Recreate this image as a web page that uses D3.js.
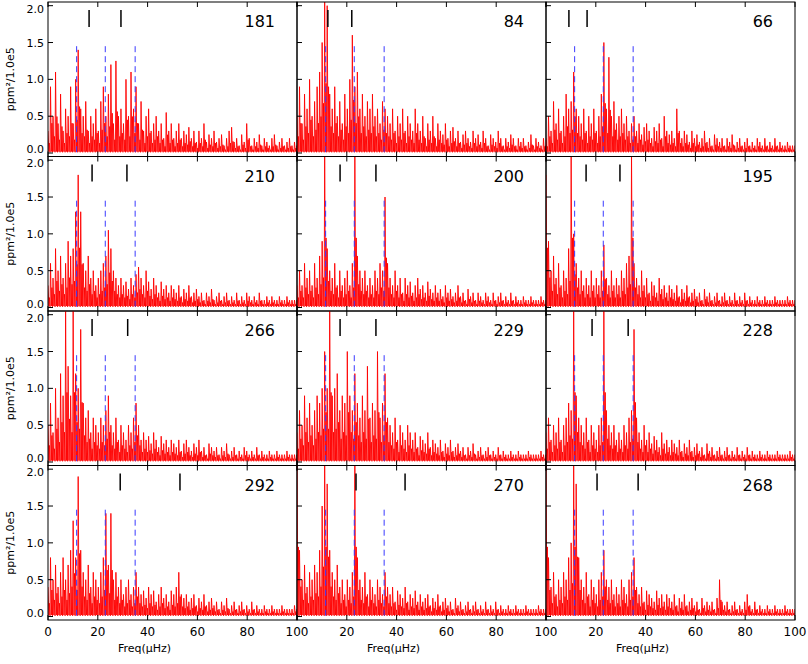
<!DOCTYPE html><html><head><meta charset="utf-8"><script src="https://cdn.jsdelivr.net/npm/d3@7"></script>
<style>body{margin:0;background:#fff}text{font-family:"DejaVu Sans",sans-serif}</style></head><body>
<svg id="c" width="808" height="664"></svg>
<script>
const labels=["181","84","66","210","200","195","266","229","228","292","270","268"];
const blueLines=[11.5,23,35];
const blackMarks=[[16.5,29.3],[12.4,22],[9.2,16.5],[17.7,31.7],[17.3,31.7],[16.1,29.7],[17.7,32],[17.3,31.7],[18.5,33],[29,53],[23.7,43.4],[20.5,37]];
const xTicks=[0,20,40,60,80,100];
const yTicks=[0,0.5,1,1.5,2];
const spectra=[
[0.3,0.9,0.5,1.1,0.4,0.8,0.3,0.6,0.5,0.9,0.4,1.0,1.4,0.6,0.5,0.7,0.3,0.5,0.4,0.6,0.3,0.7,0.9,0.5,0.8,1.2,0.4,1.25,0.5,0.6,0.4,1.0,0.5,1.1,0.6,0.9,0.4,0.7,0.3,0.5,0.6,0.3,0.4,0.5,0.3,0.4,0.2,0.55,0.3,0.4,0.2,0.3,0.4,0.2,0.3,0.25,0.35,0.2,0.3,0.15,0.3,0.2,0.4,0.15,0.25,0.2,0.3,0.15,0.2,0.25,0.1,0.2,0.3,0.35,0.15,0.2,0.1,0.25,0.15,0.4,0.2,0.1,0.2,0.15,0.25,0.1,0.2,0.15,0.1,0.2,0.25,0.1,0.15,0.2,0.1,0.15,0.2,0.1,0.15,0.1],
[0.5,0.9,0.4,0.8,0.6,1.0,0.5,0.7,0.9,1.1,1.5,2.1,2.0,0.8,0.6,0.9,0.5,0.7,0.4,0.8,0.6,1.0,1.6,0.9,1.1,0.6,0.8,0.5,0.7,0.6,0.8,0.5,0.6,0.4,0.7,0.6,0.5,0.4,0.6,0.3,0.5,0.4,0.6,0.3,0.5,0.4,0.3,0.6,0.4,0.3,0.5,0.2,0.4,0.3,0.5,0.2,0.4,0.3,0.25,0.4,0.2,0.3,0.35,0.2,0.3,0.15,0.25,0.3,0.2,0.15,0.3,0.2,0.25,0.15,0.3,0.2,0.1,0.25,0.2,0.15,0.3,0.2,0.1,0.2,0.15,0.25,0.2,0.1,0.2,0.15,0.2,0.1,0.15,0.25,0.1,0.2,0.15,0.1,0.2,0.1],
[0.2,0.5,0.3,0.7,0.4,0.6,0.3,0.5,0.8,0.6,0.7,1.1,0.6,0.5,0.4,0.6,0.3,0.5,0.4,0.6,0.3,0.5,0.8,1.5,0.6,1.3,0.5,0.7,0.4,0.5,0.6,0.4,0.5,0.3,0.4,0.5,0.3,0.4,0.25,0.35,0.4,0.3,0.2,0.35,0.3,0.4,0.2,0.5,0.3,0.25,0.3,0.2,0.6,0.3,0.2,0.3,0.25,0.15,0.3,0.2,0.25,0.15,0.2,0.3,0.15,0.2,0.1,0.25,0.2,0.15,0.2,0.1,0.2,0.15,0.25,0.1,0.15,0.2,0.1,0.15,0.2,0.1,0.15,0.1,0.2,0.15,0.1,0.2,0.1,0.15,0.1,0.2,0.1,0.15,0.1,0.1,0.15,0.1,0.1,0.1],
[0.3,0.6,0.4,0.8,0.5,0.7,0.4,0.6,0.9,0.7,0.8,1.3,1.8,1.3,0.6,0.5,0.7,0.4,0.5,0.3,0.4,0.5,0.6,0.7,1.05,0.8,0.5,0.4,0.3,0.4,0.3,0.35,0.25,0.4,0.3,0.45,0.55,0.4,0.3,0.5,0.35,0.25,0.4,0.3,0.2,0.35,0.25,0.3,0.2,0.3,0.25,0.2,0.3,0.15,0.25,0.2,0.3,0.15,0.2,0.25,0.15,0.2,0.1,0.2,0.15,0.25,0.1,0.15,0.2,0.1,0.15,0.2,0.1,0.15,0.1,0.2,0.1,0.15,0.1,0.2,0.15,0.1,0.15,0.1,0.2,0.1,0.1,0.15,0.1,0.15,0.1,0.1,0.15,0.1,0.1,0.15,0.1,0.1,0.1,0.1],
[0.3,0.5,0.3,0.6,0.4,0.5,0.3,0.6,0.4,0.7,0.9,2.1,0.8,0.5,0.4,0.6,0.3,0.5,0.3,0.4,0.5,0.3,0.6,2.1,0.7,0.5,0.4,0.5,0.3,0.4,0.3,0.5,0.4,0.6,0.5,1.5,0.6,0.4,0.3,0.5,0.3,0.4,0.2,0.4,0.3,0.35,0.2,0.3,0.4,0.25,0.3,0.2,0.35,0.25,0.2,0.3,0.2,0.25,0.15,0.3,0.2,0.25,0.15,0.2,0.3,0.15,0.2,0.1,0.25,0.15,0.2,0.1,0.2,0.15,0.1,0.2,0.15,0.1,0.2,0.1,0.15,0.2,0.1,0.15,0.1,0.2,0.1,0.15,0.1,0.1,0.15,0.1,0.1,0.15,0.1,0.1,0.1,0.15,0.1,0.1],
[1.8,0.9,0.5,0.7,0.4,0.6,0.3,0.5,0.4,0.8,2.1,1.0,0.6,0.4,0.5,0.3,0.4,0.3,0.5,0.3,0.4,0.3,0.5,0.85,0.4,0.3,0.5,0.3,0.4,0.3,0.5,0.4,0.6,0.7,2.1,0.6,0.4,0.3,0.5,0.3,0.4,0.2,0.35,0.3,0.2,0.4,0.25,0.3,0.2,0.3,0.25,0.2,0.3,0.15,0.25,0.2,0.3,0.15,0.2,0.25,0.15,0.2,0.1,0.25,0.15,0.2,0.1,0.15,0.2,0.1,0.15,0.2,0.1,0.15,0.1,0.2,0.1,0.15,0.1,0.2,0.1,0.15,0.1,0.1,0.15,0.1,0.1,0.15,0.1,0.1,0.1,0.15,0.1,0.1,0.1,0.1,0.15,0.1,0.1,0.1],
[0.5,0.8,0.4,1.0,0.6,1.2,0.9,2.1,1.3,0.9,2.1,1.2,1.0,1.8,0.8,0.6,0.7,0.4,0.6,0.5,0.4,0.6,0.5,0.7,0.9,0.5,0.4,0.6,0.3,0.5,0.4,0.3,0.5,0.4,0.6,0.8,0.5,0.3,0.4,0.3,0.35,0.25,0.4,0.3,0.2,0.35,0.25,0.3,0.2,0.3,0.25,0.2,0.3,0.15,0.25,0.3,0.2,0.15,0.25,0.2,0.3,0.15,0.2,0.1,0.25,0.2,0.15,0.2,0.1,0.2,0.15,0.25,0.1,0.15,0.2,0.1,0.15,0.1,0.2,0.15,0.1,0.15,0.1,0.2,0.1,0.15,0.1,0.1,0.15,0.1,0.1,0.15,0.1,0.1,0.1,0.15,0.1,0.1,0.1,0.1],
[0.4,0.7,0.5,0.9,0.6,0.8,0.5,0.7,0.9,0.8,1.0,1.5,1.0,2.1,0.9,1.0,1.2,0.7,0.9,0.8,1.5,0.9,0.7,1.2,0.8,0.6,0.9,0.7,1.3,0.6,0.8,0.7,1.5,0.6,0.8,1.2,0.6,0.5,0.4,0.6,0.3,0.5,0.4,0.3,0.5,0.4,0.3,0.4,0.2,0.35,0.3,0.25,0.4,0.2,0.3,0.25,0.2,0.3,0.15,0.25,0.2,0.3,0.15,0.2,0.25,0.15,0.2,0.1,0.2,0.15,0.25,0.1,0.15,0.2,0.1,0.15,0.2,0.1,0.15,0.1,0.2,0.1,0.15,0.1,0.1,0.15,0.1,0.1,0.15,0.1,0.1,0.1,0.15,0.1,0.1,0.1,0.1,0.15,0.1,0.1],
[0.4,0.6,0.3,0.5,0.4,0.6,0.3,0.5,0.6,0.8,0.7,2.1,0.9,0.6,0.5,0.4,0.6,0.3,0.5,0.4,0.3,0.5,0.6,2.1,0.7,0.5,0.4,0.5,0.3,0.4,0.3,0.5,0.4,0.6,0.7,1.8,0.6,0.4,0.3,0.5,0.3,0.4,0.25,0.35,0.3,0.2,0.4,0.25,0.3,0.2,0.3,0.25,0.2,0.3,0.15,0.25,0.2,0.3,0.15,0.2,0.25,0.15,0.2,0.1,0.25,0.15,0.2,0.1,0.15,0.2,0.1,0.15,0.2,0.1,0.15,0.1,0.2,0.1,0.15,0.1,0.2,0.1,0.15,0.1,0.1,0.15,0.1,0.1,0.15,0.1,0.1,0.1,0.15,0.1,0.1,0.1,0.1,0.15,0.1,0.1],
[0.4,0.8,0.5,0.7,0.4,0.6,0.8,0.5,0.7,0.9,1.3,0.8,1.9,0.9,0.6,0.5,0.7,0.4,0.6,0.5,0.4,0.6,0.8,1.4,0.7,1.4,0.5,0.6,0.4,0.5,0.3,0.4,0.5,0.3,0.4,0.6,0.4,0.3,0.35,0.25,0.4,0.3,0.35,0.2,0.3,0.4,0.25,0.3,0.2,0.35,0.3,0.4,0.6,0.3,0.25,0.3,0.2,0.25,0.3,0.15,0.25,0.2,0.3,0.15,0.2,0.25,0.15,0.2,0.1,0.2,0.15,0.25,0.1,0.15,0.2,0.1,0.15,0.2,0.1,0.15,0.1,0.2,0.1,0.15,0.1,0.1,0.15,0.1,0.1,0.15,0.1,0.1,0.1,0.15,0.1,0.1,0.1,0.1,0.15,0.1],
[2.1,0.9,0.5,0.7,0.4,0.6,0.5,0.7,0.6,0.9,1.5,2.1,1.8,0.9,0.6,0.5,0.7,0.4,0.5,0.3,0.5,0.4,0.6,2.1,0.8,0.5,0.4,0.6,0.3,0.5,0.4,0.3,0.5,0.4,0.3,0.6,0.4,0.3,0.4,0.2,0.35,0.3,0.25,0.4,0.2,0.3,0.25,0.35,0.2,0.3,0.2,0.25,0.3,0.15,0.25,0.2,0.3,0.15,0.2,0.25,0.15,0.2,0.1,0.25,0.15,0.2,0.1,0.15,0.2,0.1,0.15,0.2,0.1,0.15,0.1,0.2,0.1,0.15,0.1,0.2,0.1,0.15,0.1,0.1,0.15,0.1,0.1,0.15,0.1,0.1,0.1,0.15,0.1,0.1,0.1,0.1,0.15,0.1,0.1,0.1],
[2.1,0.8,0.4,0.6,0.3,0.5,0.4,0.6,0.5,0.8,1.0,2.1,1.8,0.8,0.5,0.4,0.6,0.3,0.5,0.4,0.3,0.5,0.6,0.9,0.5,0.4,0.5,0.3,0.4,0.3,0.5,0.4,0.3,0.5,0.6,0.8,0.4,0.3,0.4,0.2,0.35,0.3,0.25,0.2,0.35,0.25,0.3,0.2,0.3,0.25,0.2,0.3,0.15,0.25,0.2,0.3,0.15,0.2,0.25,0.15,0.2,0.1,0.25,0.15,0.2,0.15,0.2,0.1,0.25,0.5,0.2,0.15,0.2,0.1,0.15,0.2,0.1,0.15,0.1,0.2,0.3,0.15,0.1,0.2,0.1,0.15,0.1,0.1,0.15,0.1,0.1,0.15,0.1,0.1,0.1,0.15,0.1,0.1,0.1,0.1]
];
const svg=d3.select("#c");
const L=48,R=795,T=2,B=620,cols=3,rows=4;
const cw=(R-L)/cols,rh=(B-T)/rows;
svg.append("defs").selectAll("clipPath").data(d3.range(12)).join("clipPath").attr("id",i=>"cp"+i)
 .append("rect").attr("x",i=>L+(i%3)*cw).attr("y",i=>T+Math.floor(i/3)*rh).attr("width",cw).attr("height",rh);
spectra.forEach((s,i)=>{
  const c=i%3,r=Math.floor(i/3);
  const x0=L+c*cw,y0=T+r*rh;
  const x=d3.scaleLinear().domain([0,100]).range([x0,x0+cw]);
  const y=d3.scaleLinear().domain([-0.02,2.05]).range([y0+rh-2,y0]);
  const g=svg.append("g");
  const clip=g.append("g").attr("clip-path",`url(#cp${i})`);
  const step=100/(s.length-1);
  // spike rendering: each read value is a spike rising from the baseline
  const pts=[];
  s.forEach((v,k)=>{pts.push([k*step,v]);pts.push([k*step+step*0.33,0.02]);pts.push([k*step+step*0.55,v*0.45]);pts.push([k*step+step*0.8,0.01]);});
  const line=d3.line().x(d=>x(d[0])).y(d=>y(d[1]));
  clip.append("path").attr("d",line(pts)).attr("fill","none").attr("stroke","red").attr("stroke-width",0.9);
  blueLines.forEach(f=>clip.append("line").attr("x1",x(f)).attr("x2",x(f)).attr("y1",y(1.45)).attr("y2",y(0)).attr("stroke","#3a3aff").attr("stroke-dasharray","6,4"));
  blackMarks[i].forEach(f=>g.append("line").attr("x1",x(f)).attr("x2",x(f)).attr("y1",y0+8).attr("y2",y0+25).attr("stroke","#000").attr("stroke-width",1.5));
  g.append("text").attr("x",x0+cw-22).attr("y",y0+25).attr("text-anchor","end").attr("font-size",16).text(labels[i]);
  g.append("rect").attr("x",x0).attr("y",y0).attr("width",cw).attr("height",rh).attr("fill","none").attr("stroke","#000");
  xTicks.forEach(t=>{g.append("line").attr("x1",x(t)).attr("x2",x(t)).attr("y1",y0+rh).attr("y2",y0+rh-5).attr("stroke","#000");
    g.append("line").attr("x1",x(t)).attr("x2",x(t)).attr("y1",y0).attr("y2",y0+5).attr("stroke","#000");});
  yTicks.forEach(t=>{g.append("line").attr("x1",x0).attr("x2",x0+5).attr("y1",y(t)).attr("y2",y(t)).attr("stroke","#000");});
  if(c===0) yTicks.forEach(t=>g.append("text").attr("x",x0-4).attr("y",y(t)+(t===2?7:t===0?0:4)).attr("text-anchor","end").attr("font-size",11).text(t.toFixed(1)));
  if(c===0) g.append("text").attr("transform",`translate(14,${y0+rh/2}) rotate(-90)`).attr("text-anchor","middle").attr("font-size",11).text("ppm²/1.0e5");
  if(r===3){
    xTicks.forEach(t=>{ if(c>0&&t===0) return; g.append("text").attr("x",x(t)).attr("y",B+16).attr("text-anchor","middle").attr("font-size",12).text(t);});
    g.append("text").attr("x",x0+cw/2-28).attr("y",B+32).attr("text-anchor","middle").attr("font-size",11).text("Freq(μHz)");
  }
});
</script></body></html>
